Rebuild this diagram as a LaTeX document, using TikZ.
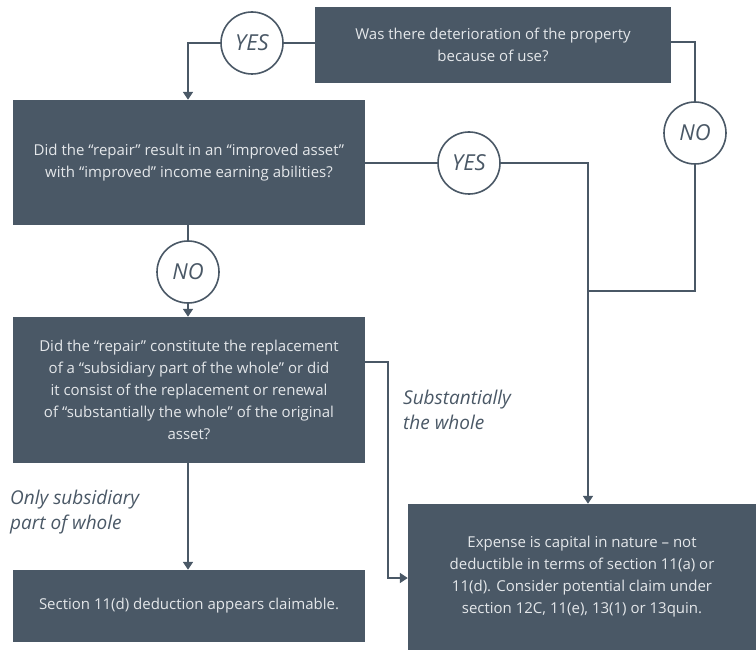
\documentclass[tikz,border=0pt]{standalone}
\usepackage{fontspec}
\setmainfont{Open Sans}
\usetikzlibrary{arrows.meta}
\definecolor{slate}{HTML}{4A5866}
\definecolor{boxtext}{HTML}{E4E7EA}
\begin{document}
\begin{tikzpicture}[x=1pt,y=-1pt,
  box/.style={fill=slate, text=boxtext, align=center, font=\fontsize{15}{22}\selectfont, inner sep=0pt},
  circ/.style={circle, draw=slate, line width=1.6pt, fill=white, minimum size=62pt, inner sep=0pt, font=\fontsize{22}{24}\selectfont\itshape, text=slate},
  conn/.style={draw=slate, line width=1.6pt},
  arr/.style={conn, -{Triangle[width=10pt,length=8pt]}},
  lab/.style={font=\fontsize{19}{25}\selectfont\itshape, text=slate, align=left, anchor=west, inner sep=0pt}]
\useasboundingbox (0,0) rectangle (756,650);

\node[box, minimum width=356pt, minimum height=76pt] (b1) at (493,45) {Was there deterioration of the property\\because of use?};
\node[box, minimum width=352pt, minimum height=125pt] (b2) at (189,162.5) {Did the “repair” result in an “improved asset”\\with “improved” income earning abilities?};
\node[box, minimum width=352pt, minimum height=146pt] (b3) at (189,390) {Did the “repair” constitute the replacement\\of a “subsidiary part of the whole” or did\\it consist of the replacement or renewal\\of “substantially the whole” of the original\\asset?};
\node[box, minimum width=348pt, minimum height=146pt] (b4) at (582,577) {Expense is capital in nature – not\\deductible in terms of section 11(a) or\\11(d). Consider potential claim under\\section 12C, 11(e), 13(1) or 13quin.};
\node[box, minimum width=352pt, minimum height=72pt] (b5) at (189,606) {Section 11(d) deduction appears claimable.};

\node[circ] (yes1) at (252,43) {YES};
\node[circ] (no1) at (695,133) {NO};
\node[circ] (yes2) at (469,163) {YES};
\node[circ] (no2) at (188,272) {NO};

\coordinate (j) at (588,291);
\coordinate (s1) at (388,362);
\coordinate (s2) at (388,578);

\draw[conn] (yes1) -- (b1.west |- yes1);
\draw[arr] (yes1.west) -| (b2.north -| no2);
\draw[conn] ([yshift=3pt]b1.east) -| (no1.north);
\draw[conn] (no1.south) |- (j);
\draw[conn] (b2.east |- yes2) -- (yes2.west);
\draw[arr] (yes2.east) -| (j) -- (j |- b4.north);
\draw[conn] (b2.south -| no2) -- (no2.north);
\draw[arr] (no2.south) -- (b3.north -| no2);
\draw[arr] (b3.east |- s1) -- (s1) -- (s2) -- (b4.west |- s2);
\draw[arr] (b3.south -| no2) -- (b5.north -| no2);

\node[lab] (l1) at (403,410) {Substantially\\the whole};
\node[lab] (l2) at (10,512) {Only subsidiary\\part of whole};
\end{tikzpicture}
\end{document}
